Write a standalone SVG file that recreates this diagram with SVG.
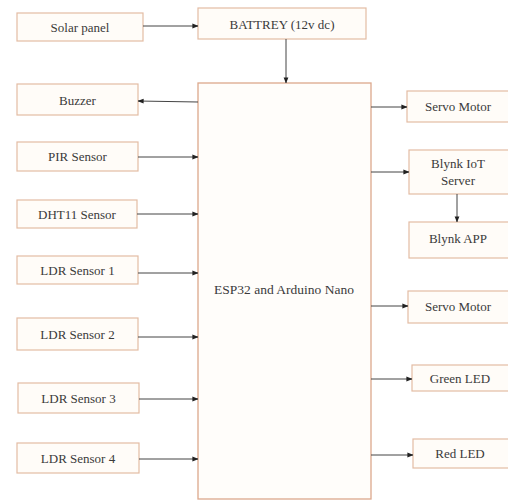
<svg xmlns="http://www.w3.org/2000/svg" width="508" height="502" viewBox="0 0 508 502">
<defs>
<marker id="ah" viewBox="0 0 8 8" refX="7.5" refY="4" markerWidth="6" markerHeight="6" markerUnits="userSpaceOnUse" orient="auto">
<path d="M0,0.8 L8,4 L0,7.2 Z" fill="#222"/>
</marker>
<style>
.box{fill:#fffcf8;stroke:#e3bca4;stroke-width:1.2}
.main{fill:#fffdfa;stroke:#dca88c;stroke-width:1.3}
.t{font-family:"Liberation Serif","Times New Roman",serif;font-size:13px;fill:#3a3a3a;text-anchor:middle;dominant-baseline:central}
.c{stroke:#444;stroke-width:1;fill:none;marker-end:url(#ah)}
</style>
</defs>
<rect width="508" height="502" fill="#ffffff"/>
<g id="solar"><rect class="box" x="17" y="13" width="126" height="28"/><text class="t" x="80" y="27">Solar panel</text></g>
<g id="battery"><rect class="box" x="198" y="8" width="168" height="31"/><text class="t" x="282" y="24">BATTREY (12v dc)</text></g>
<g id="buzzer"><rect class="box" x="17" y="84" width="121" height="31"/><text class="t" x="77.5" y="100">Buzzer</text></g>
<g id="pir"><rect class="box" x="17" y="142" width="121" height="29"/><text class="t" x="77.5" y="156.5">PIR Sensor</text></g>
<g id="dht11"><rect class="box" x="17" y="200" width="120" height="28"/><text class="t" x="77" y="214">DHT11 Sensor</text></g>
<g id="ldr1"><rect class="box" x="17" y="256" width="121" height="28"/><text class="t" x="77.5" y="270">LDR Sensor 1</text></g>
<g id="ldr2"><rect class="box" x="17" y="318" width="121" height="32"/><text class="t" x="77.5" y="334">LDR Sensor 2</text></g>
<g id="ldr3"><rect class="box" x="18" y="383" width="121" height="30"/><text class="t" x="78.5" y="398">LDR Sensor 3</text></g>
<g id="ldr4"><rect class="box" x="17" y="443" width="122" height="30"/><text class="t" x="78" y="458">LDR Sensor 4</text></g>
<g id="esp32"><rect class="main" x="198" y="83" width="173" height="416"/><text class="t" x="284" y="289" style="font-size:13.5px">ESP32 and Arduino Nano</text></g>
<g id="servo1"><rect class="box" x="407" y="91" width="104" height="31"/><text class="t" x="458" y="106">Servo Motor</text></g>
<g id="blynkiot"><rect class="box" x="409" y="150" width="102" height="44"/><text class="t" x="458" y="163">Blynk IoT</text><text class="t" x="458" y="180">Server</text></g>
<g id="blynkapp"><rect class="box" x="409" y="222" width="102" height="36"/><text class="t" x="458" y="238">Blynk APP</text></g>
<g id="servo2"><rect class="box" x="408" y="291" width="103" height="32"/><text class="t" x="458" y="306">Servo Motor</text></g>
<g id="greenled"><rect class="box" x="412" y="365" width="99" height="26"/><text class="t" x="460" y="378">Green LED</text></g>
<g id="redled"><rect class="box" x="413" y="439" width="98" height="29"/><text class="t" x="460" y="453">Red LED</text></g>
<g id="connectors">
<line class="c" x1="143" y1="26" x2="198" y2="26"/>
<line class="c" x1="286" y1="39" x2="286" y2="83"/>
<line class="c" x1="198" y1="102" x2="138" y2="101"/>
<line class="c" x1="138" y1="157" x2="198" y2="157"/>
<line class="c" x1="137" y1="214" x2="198" y2="214"/>
<line class="c" x1="138" y1="273" x2="198" y2="273"/>
<line class="c" x1="138" y1="337" x2="198" y2="337"/>
<line class="c" x1="139" y1="399" x2="198" y2="399"/>
<line class="c" x1="139" y1="459" x2="198" y2="459"/>
<line class="c" x1="371" y1="107" x2="407" y2="107"/>
<line class="c" x1="371" y1="172" x2="409" y2="172"/>
<line class="c" x1="457" y1="194" x2="457" y2="222"/>
<line class="c" x1="371" y1="306" x2="408" y2="306"/>
<line class="c" x1="371" y1="379" x2="412" y2="379"/>
<line class="c" x1="371" y1="455" x2="413" y2="455"/>
</g>
</svg>
